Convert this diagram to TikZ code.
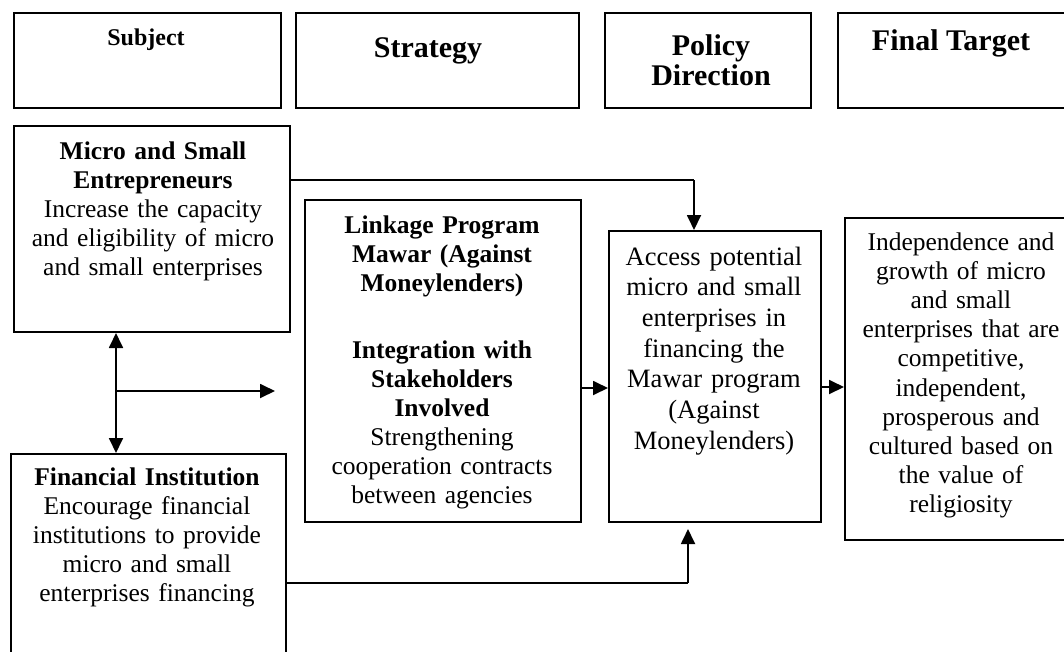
\documentclass[tikz,border=0pt]{standalone}
\usepackage{fontspec}
\setmainfont{Liberation Serif}
\usetikzlibrary{arrows.meta}
\begin{document}
\begin{tikzpicture}[x=1pt,y=1pt,
  box/.style={draw, line width=2pt, inner sep=0pt, anchor=north west},
  txt/.style={align=center, inner sep=0pt, anchor=base, font=\fontsize{25.5}{29}\selectfont},
  head/.style={align=center, inner sep=0pt, anchor=base, font=\fontsize{30}{30}\selectfont\bfseries},
  conn/.style={line width=1.8pt},
  tip/.style={Triangle[length=15pt,width=14pt]},
  arr/.style={line width=1.8pt, -{Triangle[length=15pt,width=14pt]}},
  darr/.style={line width=1.8pt, {Triangle[length=15pt,width=14pt]}-{Triangle[length=15pt,width=14pt]}},
]
\useasboundingbox (0,0) rectangle (1064,-651);
\clip (0,0) rectangle (1064,-651);
\fill[white] (0,0) rectangle (1064,-651);

% header boxes
\node[box, minimum width=267pt, minimum height=95pt] (hSub) at (13,-12) {};
\node[box, minimum width=283pt, minimum height=95pt] (hStr) at (295,-12) {};
\node[box, minimum width=206pt, minimum height=95pt] (hPol) at (604,-12) {};
\node[box, minimum width=231pt, minimum height=95pt] (hFin) at (837,-12) {};
\node[head, font=\fontsize{24}{24}\selectfont\bfseries] (tSub) at (146,-45) {Subject};
\node[head] (tStr) at (428,-57) {Strategy};
\node[head, text width=200pt] (tPol) at (711,-55) {Policy\\Direction};
\node[head] (tFin) at (951,-50) {Final Target};

% main boxes
\node[box, minimum width=276pt, minimum height=206pt] (micro) at (13,-125) {};
\node[box, minimum width=275pt, minimum height=210pt] (fin) at (10,-453) {};
\node[box, minimum width=276pt, minimum height=322pt] (link) at (304,-199) {};
\node[box, minimum width=212pt, minimum height=291pt] (access) at (608,-230) {};
\node[box, minimum width=234pt, minimum height=322pt] (final) at (844,-217) {};

% texts
\node[txt, text width=272pt] (tMicro) at (153,-159)
  {\textbf{Micro and Small}\\\textbf{Entrepreneurs}\\Increase the capacity\\and eligibility of micro\\and small enterprises};
\node[txt, text width=272pt] (tFinInst) at (147,-485)
  {\textbf{Financial Institution}\\Encourage financial\\institutions to provide\\micro and small\\enterprises financing};
\node[txt, text width=272pt] (tLink) at (442,-233)
  {\textbf{Linkage Program}\\\textbf{Mawar (Against}\\\textbf{Moneylenders)}\\[38pt]\textbf{Integration with}\\\textbf{Stakeholders}\\\textbf{Involved}\\Strengthening\\cooperation contracts\\between agencies};
\node[txt, text width=210pt, font=\fontsize{26.5}{30.7}\selectfont] (tAccess) at (714,-265)
  {Access potential\\micro and small\\enterprises in\\financing the\\Mawar program\\(Against\\Moneylenders)};
\node[txt, text width=232pt, font=\fontsize{25.5}{29.2}\selectfont] (tFinal) at (961,-250)
  {Independence and\\growth of micro\\and small\\enterprises that are\\competitive,\\independent,\\prosperous and\\cultured based on\\the value of\\religiosity};

% connectors
\coordinate (c1) at (694,-180);
\draw[conn] (micro.east |- c1) -- (c1);
\draw[arr] (c1) -- (c1 |- access.north);

\coordinate (c2) at (116,-391);
\draw[darr] (c2 |- micro.south) -- (c2 |- fin.north);
\coordinate (c3) at (275,-391);
\draw[arr] (c2) -- (c3);

\coordinate (c4) at (594,-388);
\draw[arr] (c4 -| link.east) -- (c4 -| access.west);
\coordinate (c6) at (832,-387);
\draw[arr] (c6 -| access.east) -- (c6 -| final.west);

\coordinate (c5) at (688,-583);
\draw[conn] (fin.east |- c5) -- (c5);
\draw[arr] (c5) -- ([yshift=-6pt]c5 |- access.south);
\end{tikzpicture}
\end{document}
